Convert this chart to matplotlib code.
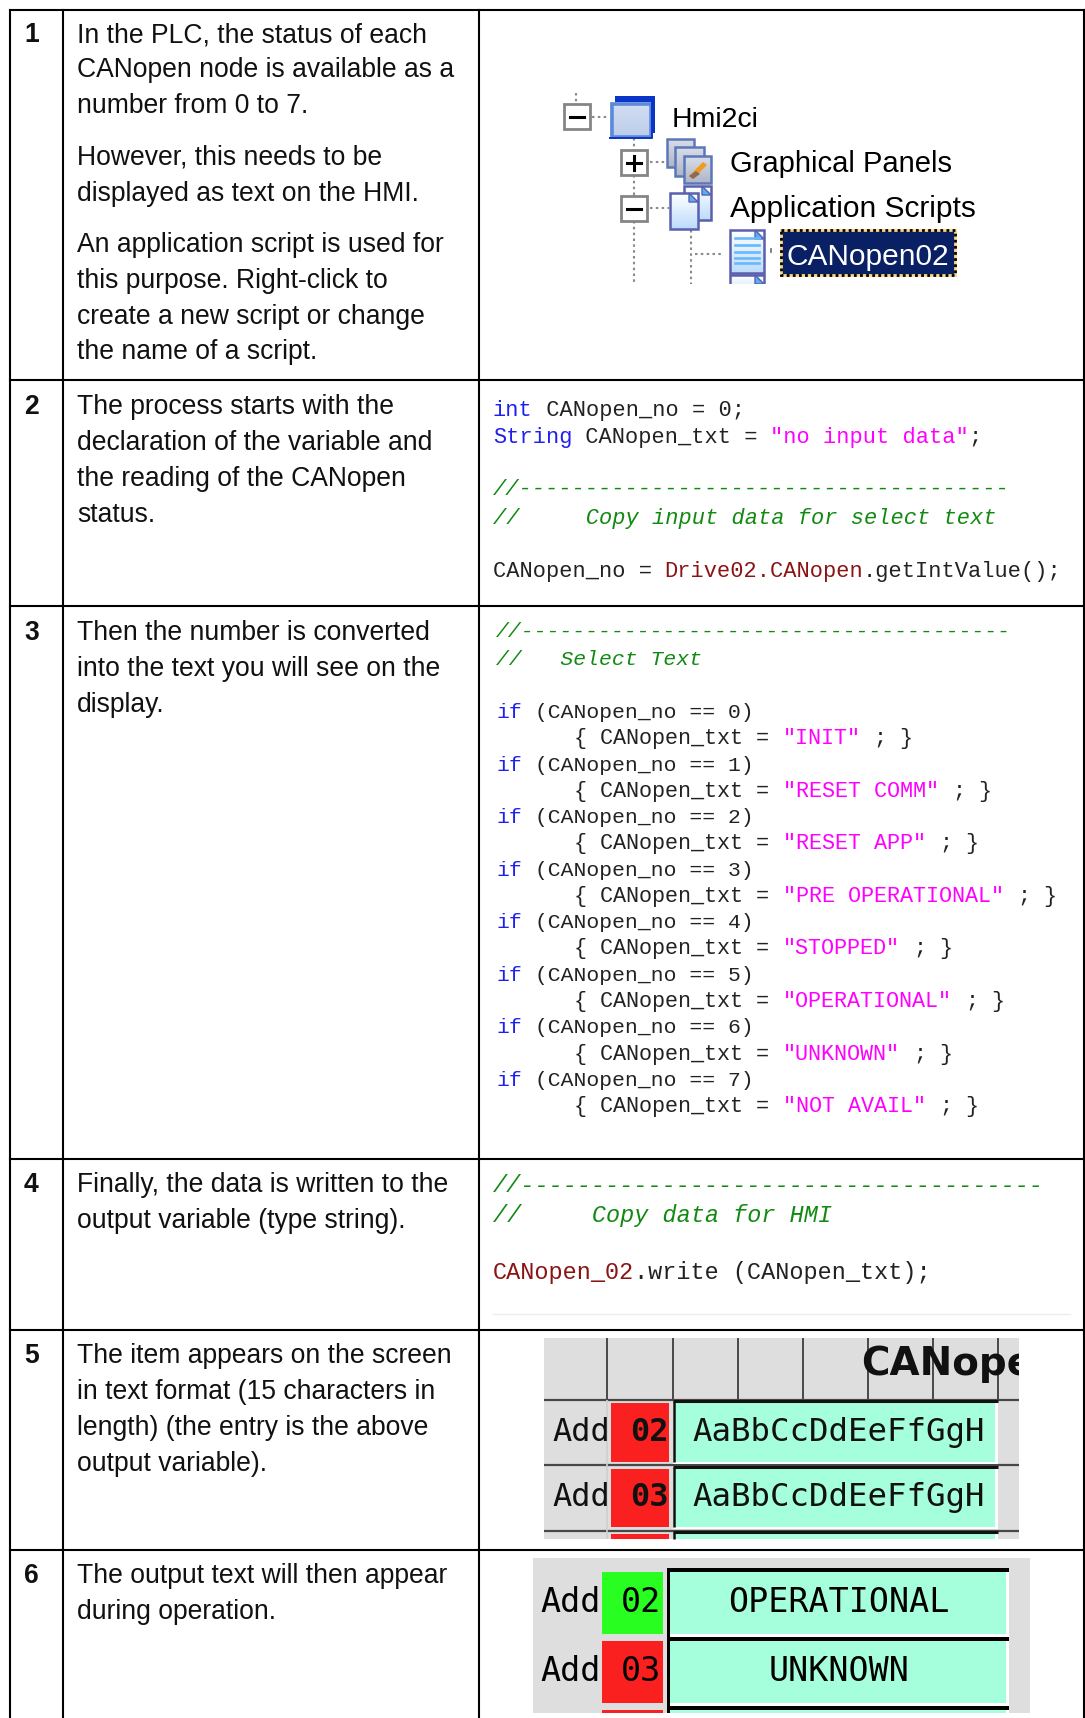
import matplotlib

matplotlib.use("Agg")

import matplotlib.pyplot as plt
import numpy as np
from matplotlib.patches import Polygon, Rectangle

SANS = "Liberation Sans"
MONO = "Liberation Mono"
PIXEL = "DejaVu Sans Mono"

KW = "#2020ee"
STR = "#ff00ff"
COM = "#128a12"
OBJ = "#8a1414"
TXT = "#222222"

ROW_LINES = [9.5, 379.5, 606, 1158.5, 1330, 1550]
COL_LINES = [10, 63, 479, 1084]
ROW_NUMBERS = ["1", "2", "3", "4", "5", "6"]

ROW_TEXT = [
    [
        (42, "In the PLC, the status of each"),
        (77, "CANopen node is available as a"),
        (113, "number from 0 to 7."),
        (165, "However, this needs to be"),
        (201, "displayed as text on the HMI."),
        (252, "An application script is used for"),
        (288, "this purpose. Right-click to"),
        (324, "create a new script or change"),
        (359, "the name of a script."),
    ],
    [
        (414, "The process starts with the"),
        (450, "declaration of the variable and"),
        (486, "the reading of the CANopen"),
        (522, "status."),
    ],
    [
        (640, "Then the number is converted"),
        (676, "into the text you will see on the"),
        (712, "display."),
    ],
    [
        (1192, "Finally, the data is written to the"),
        (1228, "output variable (type string)."),
    ],
    [
        (1363, "The item appears on the screen"),
        (1399, "in text format (15 characters in"),
        (1435, "length) (the entry is the above"),
        (1471, "output variable)."),
    ],
    [
        (1583, "The output text will then appear"),
        (1619, "during operation."),
    ],
]

CODE_DECL = [
    (416, [("int", KW), (" CANopen_no = 0;", TXT)]),
    (443, [("String", KW), (" CANopen_txt = ", TXT), ('"no input data"', STR), (";", TXT)]),
    (495, [("//" + "-" * 37, COM)]),
    (524, [("//     Copy input data for select text", COM)]),
    (577, [("CANopen_no = ", TXT), ("Drive02.CANopen", OBJ), (".getIntValue();", TXT)]),
]

STATUS_NAMES = [
    "INIT",
    "RESET COMM",
    "RESET APP",
    "PRE OPERATIONAL",
    "STOPPED",
    "OPERATIONAL",
    "UNKNOWN",
    "NOT AVAIL",
]

CODE_WRITE = [
    (1192.5, [("//" + "-" * 37, COM)]),
    (1222, [("//     Copy data for HMI", COM)]),
    (1279.5, [("CANopen_02", OBJ), (".write (CANopen_txt);", TXT)]),
]

fig = plt.figure(figsize=(10.85, 17.18), dpi=100, facecolor="white")
ax = fig.add_axes([0, 0, 1, 1])
ax.axis("off")


def put_code(lines, x0, char_w):
    size = char_w / 0.6 * 72 / 100
    for y, tokens in lines:
        pos = 0
        for text, color in tokens:
            ax.text(x0 + pos * char_w, y, text, family=MONO, fontsize=size, color=color,
                    va="baseline", ha="left", style="italic" if color == COM else "normal")
            pos += len(text)


def box(x0, y0, x1, y1, color, edge="none", lw=0.0, z=2):
    ax.add_patch(Rectangle((x0, y0), x1 - x0, y1 - y0, facecolor=color, edgecolor=edge, linewidth=lw, zorder=z))


def grad(x0, y0, x1, y1, top, bottom, z=3):
    c0 = np.array(matplotlib.colors.to_rgb(top))
    c1 = np.array(matplotlib.colors.to_rgb(bottom))
    img = np.linspace(c0, c1, 32)[:, None, :]
    ax.imshow(img, extent=(x0, x1, y1, y0), aspect="auto", zorder=z, interpolation="bilinear")


def dotted(xs, ys):
    ax.plot(xs, ys, color="#8a8a8a", lw=1.5, ls=(0, (1.2, 1.6)), zorder=2)


def tree_box(x0, y0, x1, y1, plus=False):
    box(x0, y0, x1, y1, "white", "#858585", 2.0, z=3)
    cx, cy = (x0 + x1) / 2, (y0 + y1) / 2
    ax.plot([cx - 7, cx + 7], [cy, cy], color="black", lw=2.2, zorder=4)
    if plus:
        ax.plot([cx, cx], [cy - 7, cy + 7], color="black", lw=2.2, zorder=4)


def doc_icon(x0, y0, x1, y1, z=3):
    grad(x0, y0, x1, y1, "#ffffff", "#bcdcfb", z=z)
    ax.add_patch(Rectangle((x0, y0), x1 - x0, y1 - y0, fill=False, edgecolor="#5a5fae", linewidth=1.8, zorder=z + 0.1))
    ax.add_patch(Polygon([(x1 - 9, y0), (x1, y0 + 9), (x1 - 9, y0 + 9)], facecolor="#58aef0", edgecolor="#5a5fae", linewidth=1, zorder=z + 0.2))


def panel_icon(x0, y0, x1, y1, z=3, pencil=False):
    grad(x0, y0, x1, y1, "#d8dde8", "#b0b6c8", z=z)
    ax.add_patch(Rectangle((x0, y0), x1 - x0, y1 - y0, fill=False, edgecolor="#5a78b8", linewidth=1.8, zorder=z + 0.1))
    if pencil:
        ax.add_patch(Polygon([(x1 - 8, y0 + 6), (x1 - 4, y0 + 9), (x0 + 9, y1 - 4), (x0 + 5, y1 - 7)], facecolor="#f09a20", zorder=z + 0.2))
        ax.add_patch(Polygon([(x0 + 12, y1 - 12), (x0 + 16, y1 - 9), (x0 + 9, y1 - 4), (x0 + 5, y1 - 7)], facecolor="#8a6a58", zorder=z + 0.3))


# table rules
for y in ROW_LINES:
    ax.plot([COL_LINES[0], COL_LINES[-1]], [y, y], color="black", lw=1.5, zorder=10, solid_capstyle="projecting")
for x in COL_LINES:
    ax.plot([x, x], [ROW_LINES[0], 1718], color="black", lw=1.5, zorder=10, solid_capstyle="projecting")

# left text columns
for num, lines in zip(ROW_NUMBERS, ROW_TEXT):
    ax.text(24, lines[0][0], num, family=SANS, fontweight="bold", fontsize=19.1, color="#111111", va="baseline")
    for y, line in lines:
        ax.text(77, y, line, family=SANS, fontsize=19.1, color="#111111", va="baseline")

# row 1: project tree
dotted([576, 576], [93, 103])
dotted([592, 608], [117, 117])
dotted([634, 634], [138, 150])
dotted([634, 634], [175, 196])
dotted([634, 634], [221, 284])
dotted([650, 665], [162, 162])
dotted([650, 669], [208, 208])
dotted([691, 691], [230, 284])
dotted([695, 722], [254, 254])
tree_box(564, 104, 590, 129)
tree_box(621, 150, 647, 175, plus=True)
tree_box(621, 196, 647, 221)

box(615, 96, 655, 133, "#0b34c8", z=3)
grad(610, 102, 652, 138, "#d2def2", "#bccdea", z=3.5)
ax.add_patch(Rectangle((611.5, 103.5), 39, 33, fill=False, edgecolor="#5c8ad8", linewidth=2.6, zorder=3.6))
ax.plot([610, 652, 652], [138, 138, 102], color="#0b34c8", lw=1.4, zorder=3.7)

panel_icon(667, 139, 694, 167, z=3)
panel_icon(675, 147, 704, 176, z=3.5)
panel_icon(684, 156, 711, 183, z=4, pencil=True)
doc_icon(684, 186, 711, 220, z=3)
doc_icon(670, 193, 698, 229, z=3.5)
doc_icon(730, 230, 764, 273, z=3)
for y in [238, 245, 252, 258, 263]:
    ax.plot([735, 759], [y, y], color="#68b8fa", lw=1.9, zorder=4)
doc_icon(730, 275, 764, 300, z=3)
box(725, 284, 770, 302, "white", z=4.5)
ax.plot([771, 771], [249, 252], color="#777777", lw=1.3)

ax.text(672, 127, "Hmi2ci", family=SANS, fontsize=20.5, color="black", va="baseline")
ax.text(730, 172, "Graphical Panels", family=SANS, fontsize=21, color="black", va="baseline")
ax.text(730, 217, "Application Scripts", family=SANS, fontsize=21.5, color="black", va="baseline")
box(781, 230, 955, 275, "#0a2064", z=3)
ax.add_patch(Rectangle((781, 230), 174, 45, fill=False, edgecolor="#f8d888", linewidth=2.0, zorder=3.1))
ax.add_patch(Rectangle((781, 230), 174, 45, fill=False, edgecolor="black", linewidth=2.0, ls=(0, (1, 1.2)), zorder=3.2))
ax.text(787, 265, "CANopen02", family=SANS, fontsize=21.5, color="white", va="baseline", zorder=4)

# rows 2-4: code
put_code(CODE_DECL, 493, 13.2)

put_code([(637, [("//" + "-" * 38, COM)]), (665, [("//   Select Text", COM)])], 496, 12.85)
for i, name in enumerate(STATUS_NAMES):
    base = 718 + i * 2 * 26.27
    put_code([(base, [("if", KW), (f" (CANopen_no == {i})", TXT)])], 496, 12.85)
    put_code([(base + 26.27, [("      { CANopen_txt = ", TXT), (f'"{name}"', STR), (" ; }", TXT)])], 496, 13.05)

put_code(CODE_WRITE, 493, 14.07)
ax.plot([493, 1070], [1314, 1314], color="#ececec", lw=1.0)

# row 5: HMI panel, design view
box(544, 1338, 1019, 1539, "#dedede", z=1)
for x in [607, 673, 738, 803, 868, 933, 998]:
    ax.plot([x, x], [1338, 1400], color="#484848", lw=1.4, zorder=2, solid_capstyle="butt")
for y in [1400, 1465, 1531]:
    ax.plot([544, 1019], [y, y], color="#484848", lw=1.6, zorder=2, solid_capstyle="butt")
ax.plot([607, 607], [1400, 1539], color="#cfcfcf", lw=1.2, zorder=2, solid_capstyle="butt")
for y0, y1 in [(1403, 1462), (1469, 1527), (1534, 1539)]:
    box(611, y0, 669, y1, "#fb2020", z=3)
    box(673, y0 - 2, 998, min(y1 + 1.5, 1539), "white", z=3)
    box(675, y0, 995, y1, "#a5ffdd", z=3.2)
    ax.plot([673, 998], [y0 - 2.5, y0 - 2.5], color="#111111", lw=2.2, zorder=4, solid_capstyle="butt")
    ax.plot([674, 674], [y0 - 2, y1], color="#111111", lw=1.8, zorder=4, solid_capstyle="butt")

for y, num in [(1441, "02"), (1506, "03")]:
    ax.text(552, y, "Add", family=PIXEL, fontsize=23, color="#111111", va="baseline", zorder=5)
    ax.text(669, y, num, family=PIXEL, fontweight="bold", fontsize=23, color="#111111", va="baseline", ha="right", zorder=5)
    ax.text(692, y, "AaBbCcDdEeFfGgH", family=PIXEL, fontsize=23.3, color="#111111", va="baseline", zorder=5)
head = ax.text(861, 1375, "CANopen", family="DejaVu Sans", fontweight="bold", fontsize=28, color="#111111",
               va="baseline", zorder=5, clip_on=True)
head.set_clip_path(Rectangle((544, 1338), 475, 201, transform=ax.transData))

# row 6: HMI panel, running
box(533, 1558, 1030, 1713, "#dedede", z=1)
box(602, 1572, 663, 1634, "#28ff20", z=3)
box(602, 1641, 663, 1703, "#fb2020", z=3)
box(602, 1710, 663, 1713, "#fb2020", z=3)
box(667, 1568, 1009, 1713, "white", z=2)
for y0, y1 in [(1572, 1634), (1641, 1703), (1710, 1713)]:
    box(670, y0, 1006, y1, "#a5ffdd", z=3)
    box(667, y0 - 4, 1009, y0, "black", z=4)
box(667, 1568, 670, 1713, "black", z=4)

for y, num, state in [(1612, "02", "OPERATIONAL"), (1681, "03", "UNKNOWN")]:
    ax.text(540, y, "Add", family=PIXEL, fontsize=24, color="black", va="baseline", zorder=5)
    ax.text(661, y, num, family=PIXEL, fontsize=24, color="black", va="baseline", ha="right", zorder=5)
    ax.text(839, y, state, family=PIXEL, fontsize=24, color="black", va="baseline", ha="center", zorder=5)

ax.set_xlim(0, 1085)
ax.set_ylim(1718, 0)
fig.savefig("out.png", dpi=100)
